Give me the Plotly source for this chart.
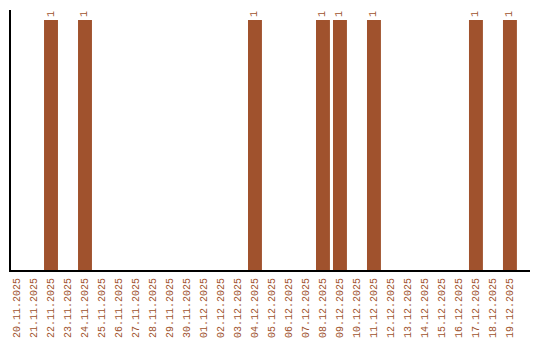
import plotly.graph_objects as go

dates = ["20.11.2025", "21.11.2025", "22.11.2025", "23.11.2025", "24.11.2025",
         "25.11.2025", "26.11.2025", "27.11.2025", "28.11.2025", "29.11.2025",
         "30.11.2025", "01.12.2025", "02.12.2025", "03.12.2025", "04.12.2025",
         "05.12.2025", "06.12.2025", "07.12.2025", "08.12.2025", "09.12.2025",
         "10.12.2025", "11.12.2025", "12.12.2025", "13.12.2025", "14.12.2025",
         "15.12.2025", "16.12.2025", "17.12.2025", "18.12.2025", "19.12.2025"]
counts = [0, 0, 1, 0, 1, 0, 0, 0, 0, 0,
          0, 0, 0, 0, 1, 0, 0, 0, 1, 1,
          0, 1, 0, 0, 0, 0, 0, 1, 0, 1]

color = "#a0522d"
font_family = "Liberation Mono"
labels = [str(v) if v else "" for v in counts]

fig = go.Figure(go.Bar(
    x=dates, y=counts, marker=dict(color=color, line=dict(width=0)),
    text=labels, textposition="outside", textangle=-90, cliponaxis=False,
    textfont=dict(family=font_family, size=10, color=color),
))
fig.update_layout(
    width=540, height=340,
    margin=dict(l=11, r=10, t=10, b=70),
    paper_bgcolor="white", plot_bgcolor="white",
    bargap=0.18, showlegend=False,
    font=dict(family=font_family, size=10, color=color),
)
fig.update_xaxes(type="category", range=[-0.353, 30.18], tickangle=-90,
                 showline=True, linecolor="black", linewidth=2, ticks="",
                 automargin=False, ticklabelstandoff=2,
                 showgrid=False, tickfont=dict(family=font_family, size=10, color=color))
fig.update_yaxes(range=[0, 1.04], showline=True, linecolor="black", linewidth=2,
                 automargin=False,
                 showticklabels=False, showgrid=False, zeroline=False, ticks="")
fig.write_html("out.html")
